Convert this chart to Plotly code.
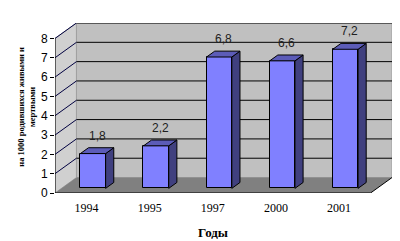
import plotly.graph_objects as go

years = ["1994", "1995", "1997", "2000", "2001"]
values = [1.8, 2.2, 6.8, 6.6, 7.2]
y_ticks = [0, 1, 2, 3, 4, 5, 6, 7, 8]

# 3D projection parameters (in axis units)
DX, DY = 0.34, 0.8      # depth offset of back wall
F0, F1 = 0.30, 0.68     # bar front / back depth fraction
BW = 0.40               # bar width (category units)
YMAX = 8

FRONT = "#8080ff"
SIDE = "#40407f"
TOP = "#5c5cb8"

fig = go.Figure()
shapes = []
n = len(years)
x0, x1 = -0.5, n - 0.5

def poly(pts):
    return "M " + " L ".join(f"{x},{y}" for x, y in pts) + " Z"

# left wall
shapes.append(dict(type="path", path=poly([(x0, 0), (x0, YMAX), (x0 + DX, YMAX + DY), (x0 + DX, DY)]),
                   fillcolor="#d0d0d0", line=dict(color="#a0a0a0", width=1), layer="below"))
# back wall
shapes.append(dict(type="path", path=poly([(x0 + DX, DY), (x0 + DX, YMAX + DY), (x1 + DX, YMAX + DY), (x1 + DX, DY)]),
                   fillcolor="#c0c0c0", line=dict(color="#a0a0a0", width=1), layer="below"))
# floor
shapes.append(dict(type="path", path=poly([(x0, 0), (x1, 0), (x1 + DX, DY), (x0 + DX, DY)]),
                   fillcolor="#808080", line=dict(width=0), layer="below"))
# gridlines
for k in y_ticks[1:]:
    shapes.append(dict(type="line", x0=x0 + DX, x1=x1 + DX, y0=k + DY, y1=k + DY,
                       line=dict(color="#000000", width=1), layer="below"))
    shapes.append(dict(type="line", x0=x0, x1=x0 + DX, y0=k, y1=k + DY,
                       line=dict(color="#000040", width=1), layer="below"))
# front axis lines
shapes.append(dict(type="line", x0=x0, x1=x0, y0=0, y1=YMAX, line=dict(color="#000000", width=1)))
shapes.append(dict(type="line", x0=x0, x1=x1, y0=0, y1=0, line=dict(color="#000000", width=1)))
shapes.append(dict(type="line", x0=x1, x1=x1 + DX, y0=0, y1=DY, line=dict(color="#000000", width=1)))
# category boundary ticks
for i in range(1, n):
    shapes.append(dict(type="line", xref="x", yref="y", x0=i - 0.5, x1=i - 0.5, y0=0, y1=-0.22,
                       line=dict(color="#000000", width=1)))

# bars: front faces
xc = [i + F0 * DX for i in range(n)]
base = F0 * DY
fig.add_trace(go.Bar(x=xc, y=values, base=base, width=BW,
                     marker=dict(color=FRONT, line=dict(color="#000000", width=1)),
                     hoverinfo="skip", showlegend=False))

ddx = (F1 - F0) * DX
ddy = (F1 - F0) * DY
for i, v in enumerate(values):
    xl, xr = xc[i] - BW / 2, xc[i] + BW / 2
    top = base + v
    # side face
    fig.add_trace(go.Scatter(x=[xr, xr, xr + ddx, xr + ddx, xr], y=[base, top, top + ddy, base + ddy, base],
                             fill="toself", fillcolor=SIDE, mode="lines",
                             line=dict(color="#000000", width=1), hoverinfo="skip", showlegend=False))
    # top face
    fig.add_trace(go.Scatter(x=[xl, xr, xr + ddx, xl + ddx, xl], y=[top, top, top + ddy, top + ddy, top],
                             fill="toself", fillcolor=TOP, mode="lines",
                             line=dict(color="#000000", width=1), hoverinfo="skip", showlegend=False))

annotations = []
for i, v in enumerate(values):
    annotations.append(dict(x=xc[i] + ddx / 2, y=base + v + ddy, xref="x", yref="y",
                            text=f"{v:.1f}".replace(".", ","), showarrow=False,
                            yanchor="middle", yshift=12,
                            font=dict(family="Liberation Sans, Arial", size=12, color="#202020")))

annotations.append(dict(x=-0.085, y=0.51, xref="paper", yref="paper",
                        text="<b>на 1000 родившихся живыми и<br>мертвыми</b>", textangle=-90,
                        showarrow=False, xanchor="center", yanchor="middle",
                        font=dict(family="Liberation Serif, Times New Roman", size=8.5, color="#000000")))

annotations.append(dict(x=0.5 * (x0 + x1), y=-0.232, xref="x", yref="paper",
                        text="<b>Годы</b>", showarrow=False, xanchor="center", yanchor="middle",
                        font=dict(family="Liberation Serif, Times New Roman", size=13, color="#000000")))

fig.update_layout(
    width=400, height=241,
    margin=dict(l=55, r=8, t=23, b=48, autoexpand=False),
    paper_bgcolor="white", plot_bgcolor="white",
    shapes=shapes, annotations=annotations,
    bargap=0,
    xaxis=dict(range=[x0, x1 + DX], tickvals=list(range(n)), ticktext=years,
               showgrid=False, zeroline=False, showline=False, ticks="",
               ticklabelstandoff=6, automargin=False,
               tickfont=dict(family="Liberation Serif, Times New Roman", size=12, color="#000000")),
    yaxis=dict(range=[0, YMAX + DY], tickvals=y_ticks, showgrid=False, zeroline=False,
               showline=False, ticks="outside", ticklen=4, tickcolor="#000000", automargin=False,
               tickfont=dict(family="Liberation Sans, Arial", size=12, color="#000000")),
)

fig.write_html("out.html")
